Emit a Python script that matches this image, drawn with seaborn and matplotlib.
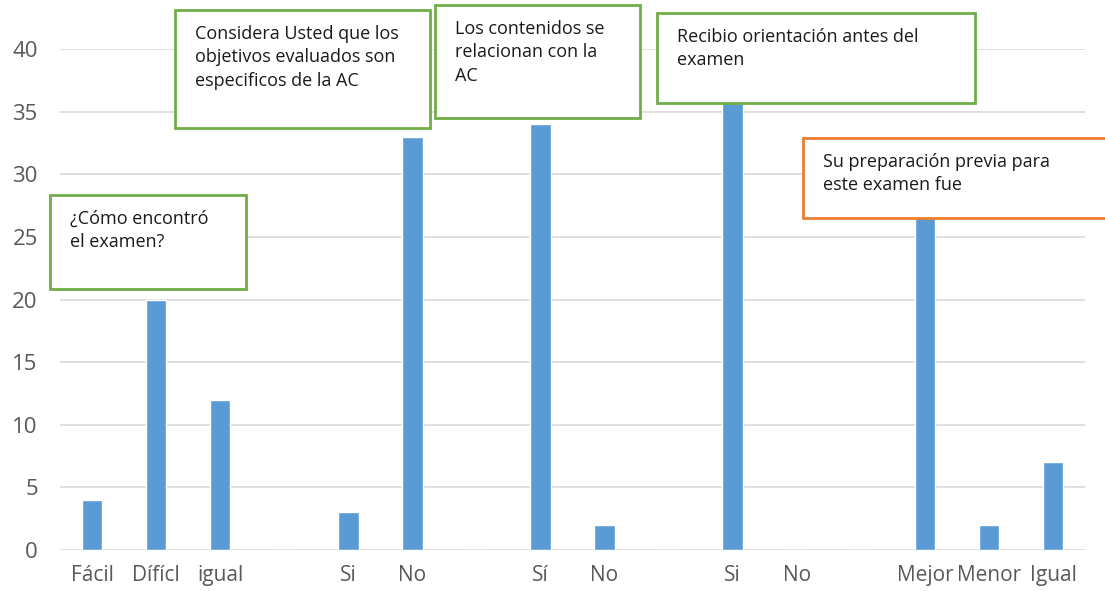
import pandas as pd
import matplotlib.pyplot as plt
import seaborn as sns
from matplotlib.patches import Rectangle

# datos (categorias vacias = separacion entre preguntas)
labels = ["Fácil", "Dífícl", "igual", "", "Si", "No", "", "Sí", "No", "",
          "Si", "No", "", "Mejor", "Menor", "Igual"]
values = [4, 20, 12, 0, 3, 33, 0, 34, 2, 0, 36, 0, 0, 27, 2, 7]

# cuadros de texto: (texto, color del borde, x, y, ancho, alto) en pixeles
box_texts = ["¿Cómo encontró\nel examen?",
             "Considera Usted que los\nobjetivos evaluados son\nespecificos de la AC",
             "Los contenidos se\nrelacionan con la\nAC",
             "Recibio orientación antes del\nexamen",
             "Su preparación previa para\neste examen fue"]
box_colors = ["#70ad47", "#70ad47", "#70ad47", "#70ad47", "#ed7d31"]
box_px = [(50, 195, 196, 94), (175, 10, 255, 118), (435, 5, 205, 113),
          (657, 13, 318, 90), (803, 138, 310, 80)]

W, H = 1105, 591
df = pd.DataFrame({"key": [f"c{i}" for i in range(len(labels))], "n": values})

sns.set_theme(style="white")
plt.rcParams['font.family'] = ['Open Sans', 'DejaVu Sans']

fig = plt.figure(figsize=(W / 100, H / 100), dpi=100)
ax = fig.add_axes([60 / W, 1 - 550 / H, 1025 / W, 501 / H])

sns.barplot(data=df, x="key", y="n", color="#5b9bd5", width=0.32,
            saturation=1, ax=ax, zorder=3)

ax.set_ylim(0, 40)
ax.set_yticks(range(0, 41, 5))
ax.yaxis.grid(True, color="#d9d9d9", linewidth=1.2, zorder=0)
ax.set_axisbelow(True)
ax.set_xticks(range(len(labels)))
ax.set_xticklabels(labels)
ax.tick_params(axis="both", colors="#595959", length=0)
ax.tick_params(axis="y", labelsize=16, pad=16)
ax.tick_params(axis="x", labelsize=15, pad=11)
for s in ax.spines.values():
    s.set_visible(False)
ax.set_xlabel("")
ax.set_ylabel("")
ax.set_xlim(-0.5, len(labels) - 0.5)

for txt, col, (x, y, w, h) in zip(box_texts, box_colors, box_px):
    rect = Rectangle((x / W, 1 - (y + h) / H), w / W, h / H, transform=fig.transFigure,
                     facecolor="white", edgecolor=col, linewidth=2, zorder=5)
    fig.add_artist(rect)
    fig.text((x + 20) / W, 1 - (y + 15) / H, txt, ha="left", va="top",
             fontsize=13, color="#1a1a1a", linespacing=1.38, zorder=6)

fig.savefig("out.png", dpi=100)
